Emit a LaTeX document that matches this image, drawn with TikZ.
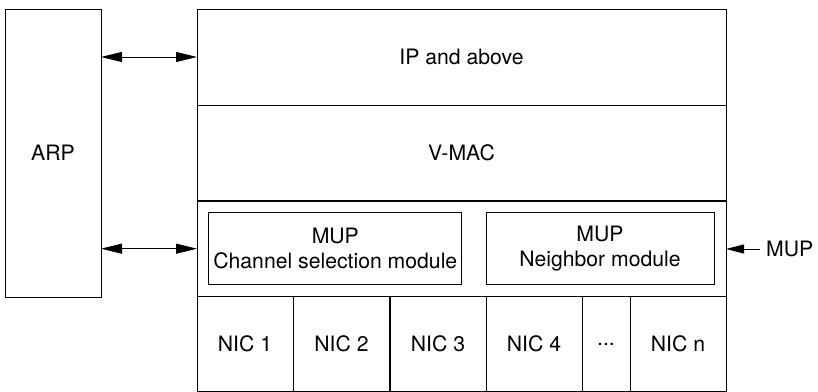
\documentclass[tikz,border=0pt]{standalone}
\usepackage{fontspec}
\setmainfont{TeX Gyre Heros}
\usetikzlibrary{arrows.meta}

\begin{document}
\begin{tikzpicture}[x=1pt,y=-1pt,
    box/.style={draw,line width=1pt,inner sep=0pt,outer sep=0pt,align=center,
      font=\fontsize{21.2}{25}\selectfont},
    layer/.style={box,minimum width=529pt,minimum height=96pt},
    nic/.style={box,minimum height=94.8pt},
    link/.style={line width=1pt,{Triangle[length=21pt,width=10pt]}-{Triangle[length=21pt,width=10pt]}},
    push/.style={line width=1pt,-{Triangle[length=18pt,width=9pt]}}]
    \useasboundingbox (0,0) rectangle (818,391);

    % draw left box
    \node[box,minimum width=96pt,minimum height=288pt] (arp) at (53,153) {ARP};

    % draw stack layers
    \node[layer] (ip) at (461.5,57) {IP and above};
    \node[layer] (vmac) at (461.5,153) {V-MAC};
    \node[layer] (mup) at (461.5,248.7) {};

    % draw modules inside the MUP layer
    \node[box,minimum width=252.7pt,minimum height=72.3pt] (chan) at (335.3,248.8) {MUP\\Channel selection module};
    \node[box,minimum width=228pt,minimum height=72.3pt] (nbr) at (600,248.8) {MUP\\Neighbor module};

    % draw interface cards
    \foreach \x/\n in {245/1,341.5/2,438/3,534/4}
    \node[nic,minimum width=96pt] (nic\n) at (\x,344.1) {NIC \n};
    \node[nic,minimum width=48pt] (nicdots) at (606,344.1) {...};
    \node[nic,minimum width=96pt] (nicn) at (678,344.1) {NIC n};

    % draw arrows
    \draw[link] (arp.east |- ip.west) -- (ip.west);
    \draw[link] (arp.east |- mup.west) -- (mup.west);
    \node[font=\fontsize{21.2}{25}\selectfont,anchor=west,inner sep=0pt] (mupin) at (766,249) {MUP};
    \draw[push] ([xshift=-6pt]mupin.west) -- (mup.east |- mupin.west);
\end{tikzpicture}
\end{document}
